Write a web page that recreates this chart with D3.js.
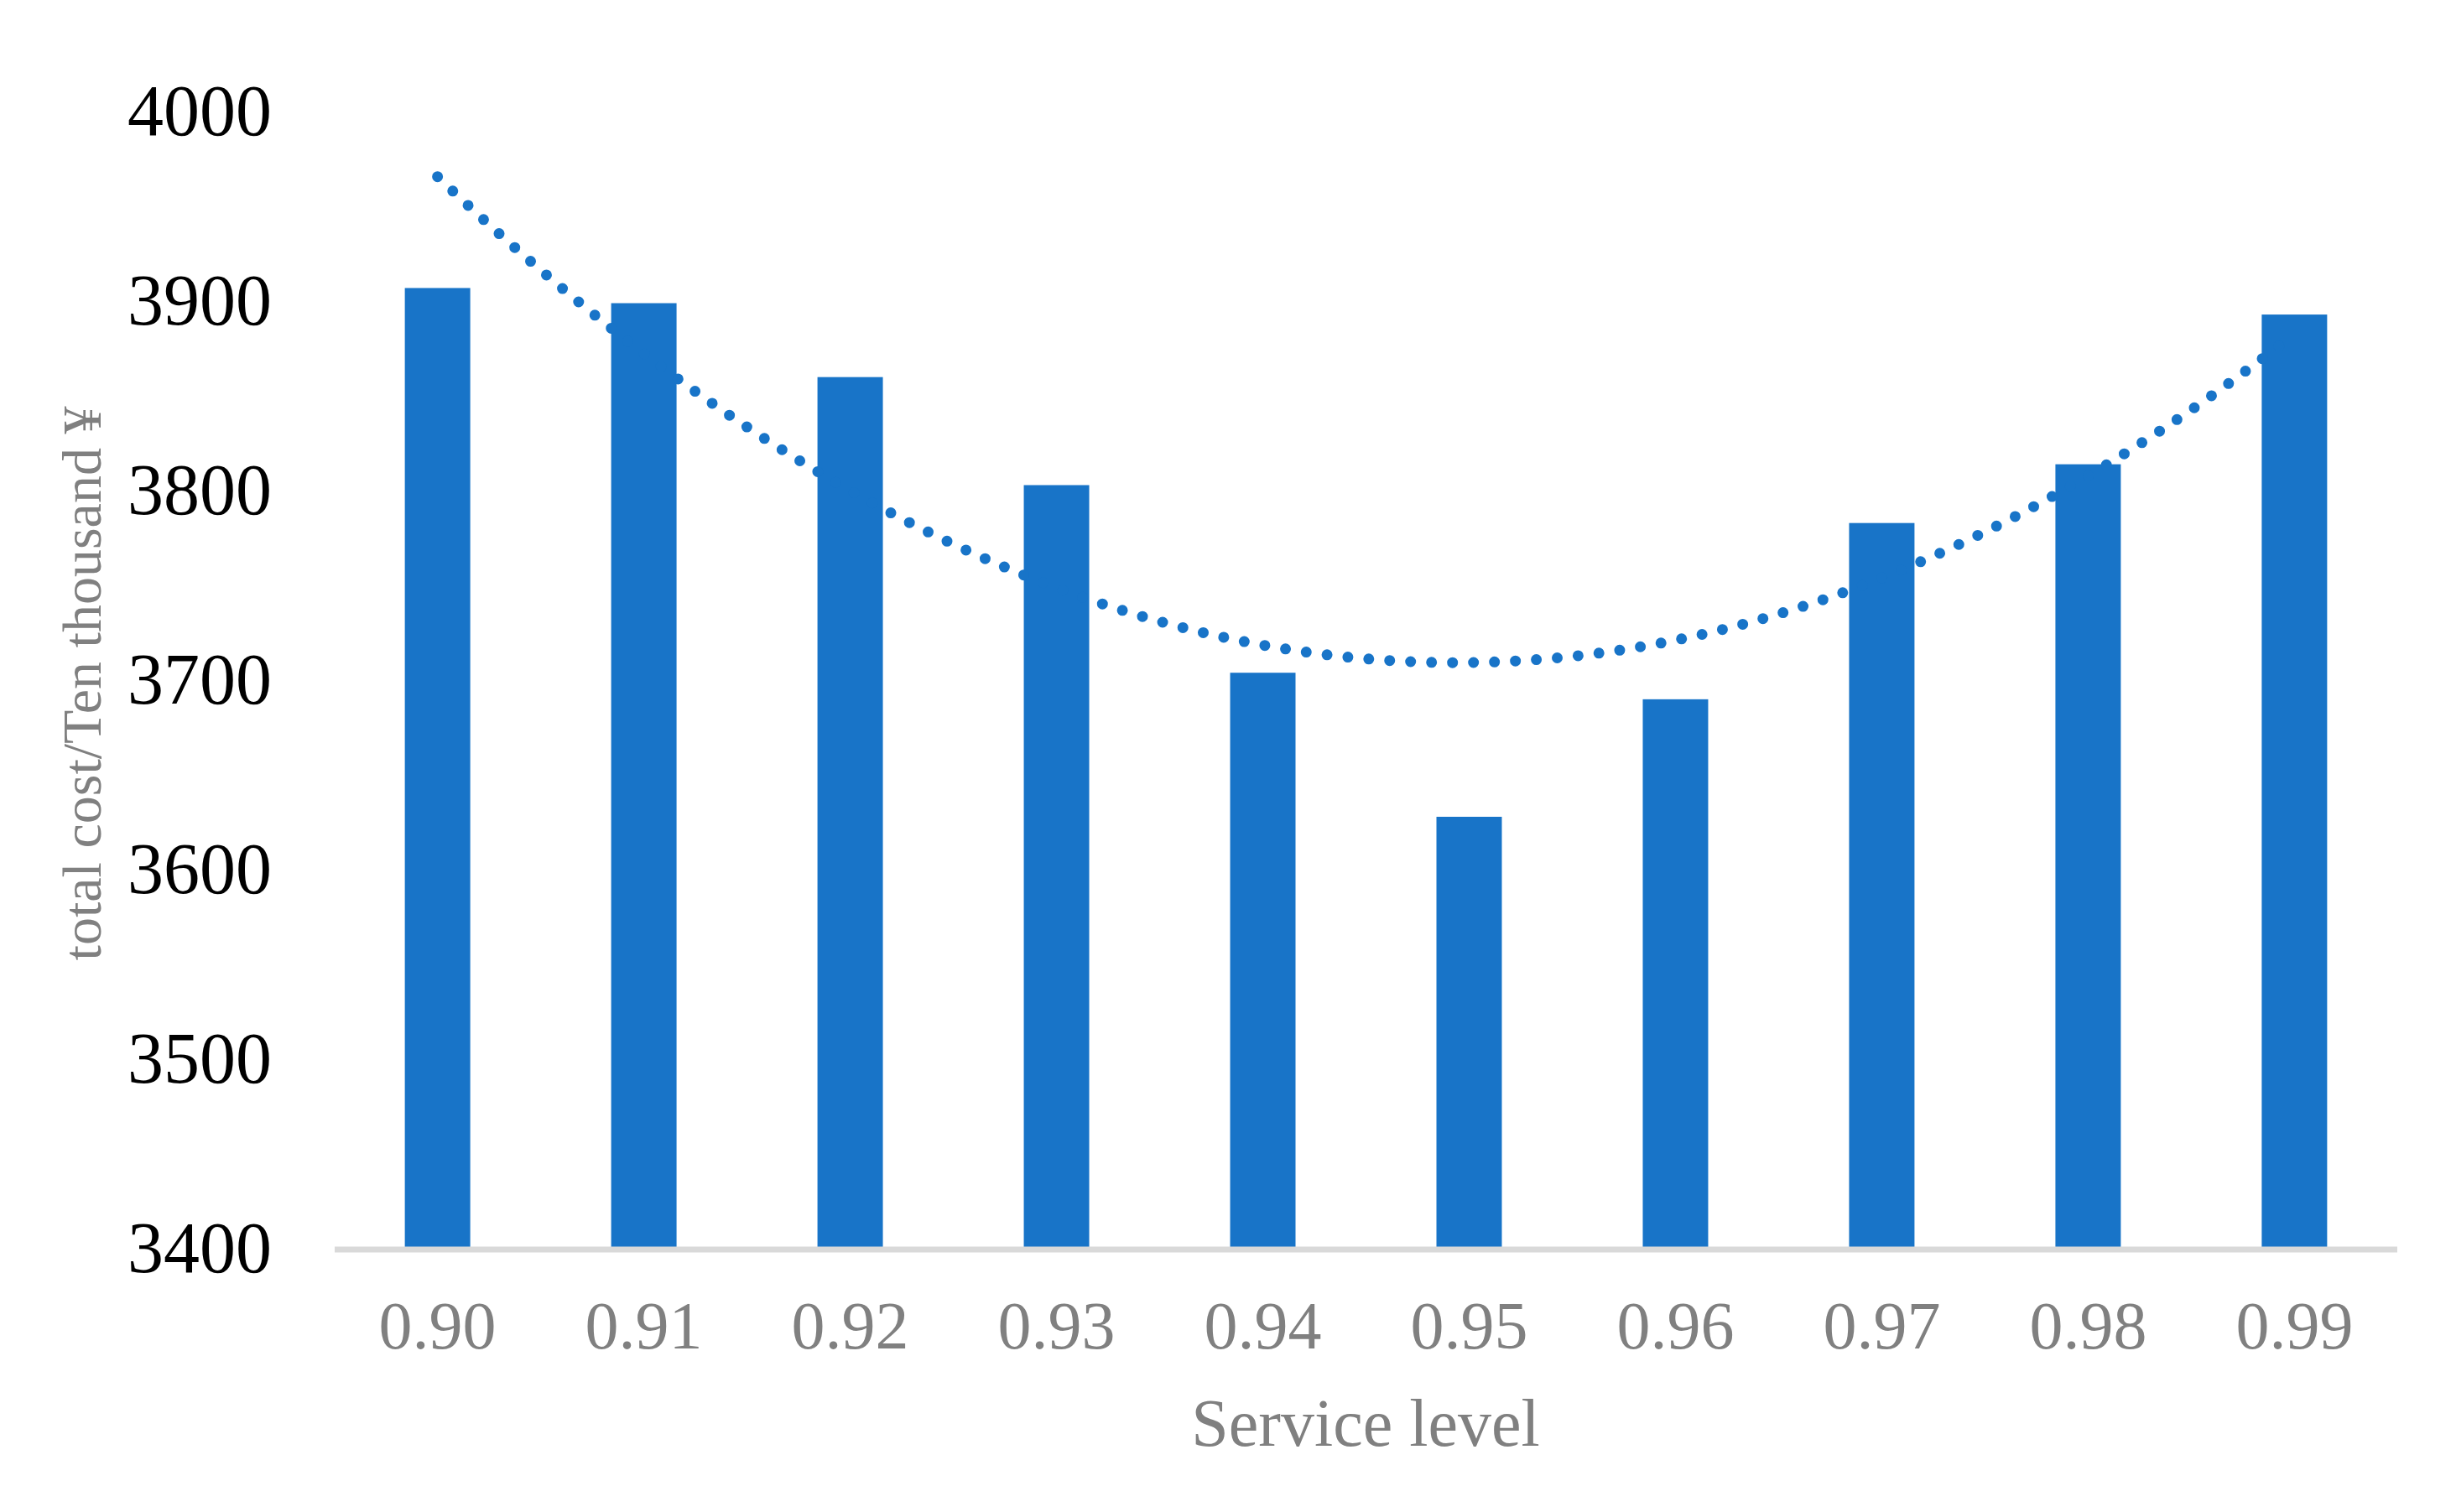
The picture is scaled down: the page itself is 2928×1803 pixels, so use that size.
<!DOCTYPE html>
<html><head><meta charset="utf-8">
<script src="https://cdn.jsdelivr.net/npm/d3@7"></script>
<style>body{margin:0;background:#fff}</style></head>
<body><svg id="c" width="2928" height="1803"></svg>
<script>
const categories = ["0.90","0.91","0.92","0.93","0.94","0.95","0.96","0.97","0.98","0.99"];
const totalCost = [3906, 3898, 3859, 3802, 3703, 3627, 3689, 3782, 3813, 3892];
const yTicks = [3400, 3500, 3600, 3700, 3800, 3900, 4000];

const svg = d3.select("#c");
const font = "'Liberation Serif','Times New Roman',serif";
const x = d3.scaleBand().domain(categories).range([399, 2858]).paddingInner(0.683).paddingOuter(0.34);
const y = d3.scaleLinear().domain([3400, 4000]).range([1487, 131]);

// bars
svg.selectAll("rect.bar").data(totalCost).join("rect")
  .attr("x", (d,i)=>x(categories[i])).attr("width", x.bandwidth())
  .attr("y", d=>y(d)).attr("height", d=>y(3400)-y(d)).attr("fill", "#1874C8");

// x axis line
svg.append("line").attr("x1",399).attr("x2",2858).attr("y1",1490).attr("y2",1490)
  .attr("stroke","#d9d9d9").attr("stroke-width",7);

// y tick labels
svg.selectAll("text.yt").data(yTicks).join("text")
  .attr("x",324).attr("y",d=>y(d)).attr("dy","0.35em").attr("text-anchor","end")
  .attr("font-family",font).attr("font-size",86).attr("fill","#000").text(d=>d);

// x tick labels
svg.selectAll("text.xt").data(categories).join("text")
  .attr("x",d=>x(d)+x.bandwidth()/2).attr("y",1580).attr("dy","0.35em").attr("text-anchor","middle")
  .attr("font-family",font).attr("font-size",80).attr("fill","#808080").text(d=>d);

// axis titles
svg.append("text").attr("x",1628).attr("y",1696).attr("dy","0.35em").attr("text-anchor","middle")
  .attr("font-family",font).attr("font-size",80).attr("fill","#808080").text("Service level");
svg.append("text").attr("transform","translate(97,815) rotate(-90)").attr("dy","0.35em").attr("text-anchor","middle")
  .attr("font-family",font).attr("font-size",66).attr("fill","#808080").text("total cost/Ten thousand ¥");

// polynomial (order 2) trendline fitted by least squares
const n = totalCost.length, X = d3.range(1, n+1);
const S = k => d3.sum(X, v=>Math.pow(v,k));
const T = k => d3.sum(X, (v,i)=>Math.pow(v,k)*totalCost[i]);
const M = [[S(0),S(1),S(2),T(0)],[S(1),S(2),S(3),T(1)],[S(2),S(3),S(4),T(2)]];
for (let i=0;i<3;i++){ for(let j=i+1;j<3;j++){ const f=M[j][i]/M[i][i]; for(let k=i;k<4;k++) M[j][k]-=f*M[i][k]; } }
const c=[0,0,0];
for (let i=2;i>=0;i--){ let s=M[i][3]; for(let k=i+1;k<3;k++) s-=M[i][k]*c[k]; c[i]=s/M[i][i]; }
const fx = d3.scaleLinear().domain([1,n]).range([x(categories[0])+x.bandwidth()/2, x(categories[n-1])+x.bandwidth()/2]);
const pts = d3.range(1, n+0.001, 0.05).map(t=>[fx(t), y(c[0]+c[1]*t+c[2]*t*t)]);
svg.append("path").attr("d", d3.line()(pts)).attr("fill","none").attr("stroke","#1874C8")
  .attr("stroke-width",13).attr("stroke-linecap","round").attr("stroke-dasharray","0 25");
</script></body></html>
